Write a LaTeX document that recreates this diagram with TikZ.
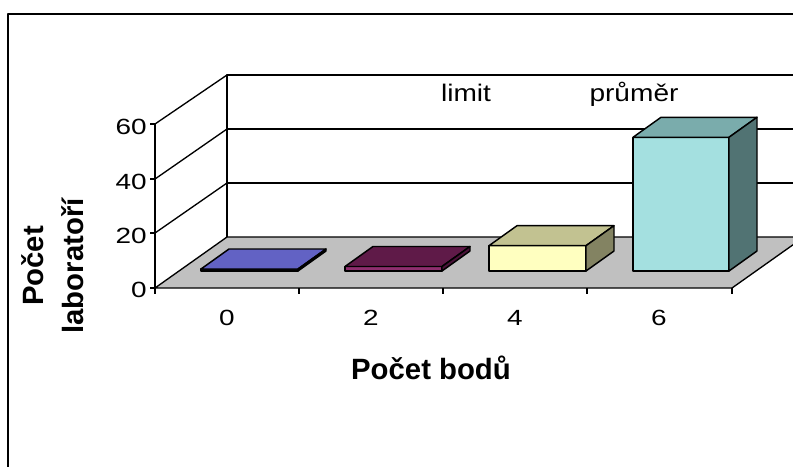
\documentclass[tikz,border=0pt]{standalone}
\usepackage{fontspec}
\setmainfont{Liberation Sans}
\newfontfamily\ticfont[FakeStretch=1.27]{Liberation Sans}
\newfontfamily\lblfont[FakeStretch=1.17]{Liberation Sans}
\definecolor{floorgray}{HTML}{C0C0C0}
\definecolor{bluefront}{HTML}{5454AC}
\definecolor{bluetop}{HTML}{6262C4}
\definecolor{blueside}{HTML}{40408A}
\definecolor{magfront}{HTML}{8E2E6E}
\definecolor{magtop}{HTML}{5F1A48}
\definecolor{magside}{HTML}{4A1238}
\definecolor{yelfront}{HTML}{FFFFC0}
\definecolor{yeltop}{HTML}{C2C291}
\definecolor{yelside}{HTML}{838362}
\definecolor{cyanfront}{HTML}{A4E0E0}
\definecolor{cyantop}{HTML}{7AACAC}
\definecolor{cyanside}{HTML}{517373}
\newcommand\chartbar[6]{%
  \filldraw[barline,fill=#4] (#1,271) rectangle (#2,#3);
  \filldraw[barline,fill=#5] (#1,#3) -- (#2,#3) -- ++(28,-20) -- ++({#1-#2},0) -- cycle;
  \filldraw[barline,fill=#6] (#2,271) -- (#2,#3) -- ++(28,-20) -- ++(0,{271-#3}) -- cycle;
}
\begin{document}
\begin{tikzpicture}[x=0.75pt,y=-0.75pt,line join=round,
  chartline/.style={line width=1pt},
  barline/.style={line width=1.1pt},
  ticklbl/.style={font=\ticfont\fontsize{16.5}{19}\selectfont,inner sep=0pt},
  seriesname/.style={font=\lblfont\fontsize{18}{21}\selectfont,inner sep=0pt,anchor=base},
  axtitle/.style={font=\bfseries\fontsize{22}{26}\selectfont,inner sep=0pt,anchor=base}]
\clip (0,0) rectangle (793,467);
\fill[white] (0,0) rectangle (793,467);
% outer frame
\draw[line width=1.6pt] (8,480) -- (8,14) -- (800,14);
% floor
\filldraw[chartline,fill=floorgray] (155,288) -- (732,288) -- (804,237) -- (227,237) -- cycle;
% back wall
\draw[chartline] (227,237) -- (227,75) -- (800,75);
\draw[chartline] (227,183) -- (800,183);
\draw[chartline] (227,129) -- (800,129);
% left wall diagonals
\draw[chartline] (155,124) -- (227,75);
\draw[chartline] (155,179) -- (227,129);
\draw[chartline] (155,233) -- (227,183);
% y axis
\draw[chartline] (155,124) -- (155,288);
\foreach \yy in {124,179,233,288} \draw[chartline] (150,\yy) -- (155,\yy);
% x ticks
\foreach \xx in {155,299,443,587,732} \draw[chartline] (\xx,288) -- (\xx,294);
% bars
\chartbar{201}{298}{269}{bluefront}{bluetop}{blueside}
\chartbar{345}{442}{266.5}{magfront}{magtop}{magside}
\chartbar{489}{586}{245.7}{yelfront}{yeltop}{yelside}
\chartbar{633}{729}{137.3}{cyanfront}{cyantop}{cyanside}
% y tick labels
\node[ticklbl,anchor=base east] (y60) at (147,134) {60};
\node[ticklbl,anchor=base east] (y40) at (147,189) {40};
\node[ticklbl,anchor=base east] (y20) at (147,243) {20};
\node[ticklbl,anchor=base east] (y0) at (147,297) {0};
% x tick labels
\node[ticklbl,anchor=base] (x0) at (227,325.5) {0};
\node[ticklbl,anchor=base] (x2) at (371,325.5) {2};
\node[ticklbl,anchor=base] (x4) at (515,325.5) {4};
\node[ticklbl,anchor=base] (x6) at (659,325.5) {6};
% series names
\node[seriesname] (limit) at (466,102) {limit};
\node[seriesname] (prumer) at (634,102) {průměr};
% axis titles
\node[axtitle] (xtitle) at (431,379.3) {Počet bodů};
\node[axtitle,rotate=90] (ytitle1) at (43,266) {Počet};
\node[axtitle,rotate=90] (ytitle2) at (83,266) {laboratoří};
\end{tikzpicture}
\end{document}
